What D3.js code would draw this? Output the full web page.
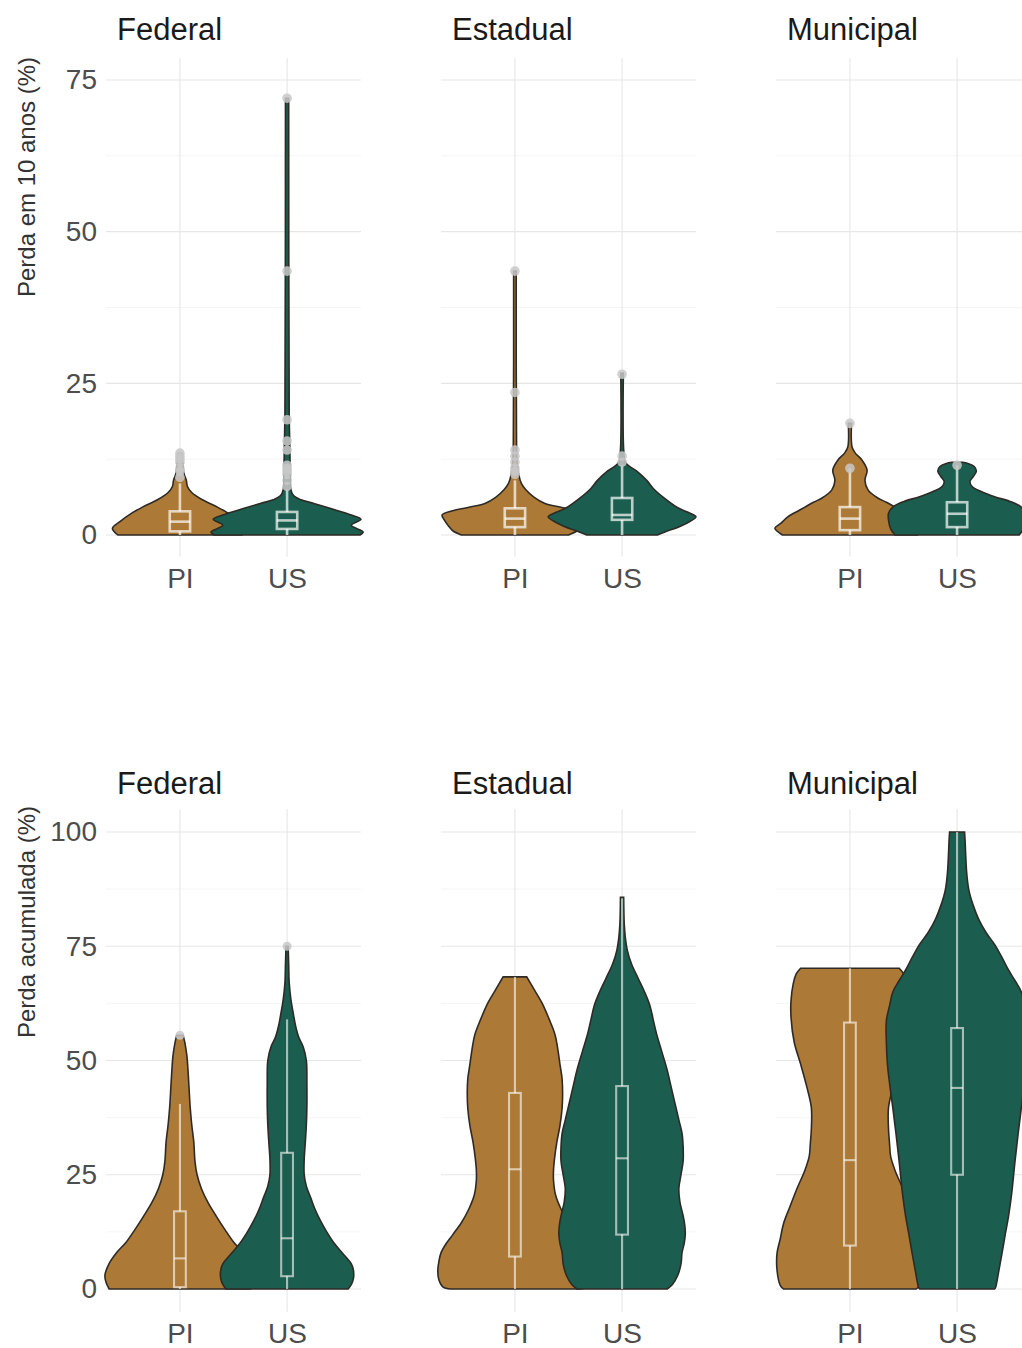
<!DOCTYPE html>
<html>
<head>
<meta charset="utf-8">
<script src="https://cdn.jsdelivr.net/npm/d3@7"></script>
<style>
  body { margin: 0; background: #fff; }
  text { font-family: "Liberation Sans", Arial, sans-serif; }
</style>
</head>
<body>
<svg id="chart" width="1022" height="1348"></svg>
<script>
const facets = ["Federal", "Estadual", "Municipal"]
const groups = ["PI", "US"]
const colors = { PI: "#ac7a36", US: "#1b5e4f" }

const tenTicks = [0, 25, 50, 75]
const accTicks = [0, 25, 50, 75, 100]

// violin outlines: [value, half width in category units]
const tenFederalPI = [[0,0.58],[1.1,0.63],[2.2,0.56],[3.6,0.45],[4.6,0.35],[5.8,0.21],[7,0.11],[8,0.07],[9,0.06],[10,0.04],[11,0.03],[13.5,0.02]]
const tenFederalUS = [[0,0.68],[0.5,0.71],[1.6,0.6],[2.6,0.69],[3.3,0.6],[4.4,0.4],[5.2,0.25],[5.8,0.13],[6.5,0.06],[7.5,0.035],[10,0.03],[15,0.025],[20,0.02],[72,0.015]]
const tenEstadualPI = [[0,0.5],[0.7,0.58],[1.5,0.62],[2.5,0.66],[3.3,0.68],[4,0.58],[4.5,0.45],[5.2,0.28],[6.2,0.18],[7.5,0.1],[8.5,0.06],[10,0.035],[12,0.02],[15,0.015],[43.5,0.012]]
const tenEstadualUS = [[0,0.33],[0.5,0.4],[1.5,0.55],[2.3,0.64],[3,0.69],[3.7,0.62],[4.5,0.52],[6,0.4],[7.5,0.3],[9,0.23],[10.5,0.14],[11.3,0.07],[12,0.03],[14,0.015],[26.7,0.012]]
const tenMunicipalPI = [[0,0.63],[1.1,0.7],[2,0.64],[3,0.58],[4,0.48],[4.6,0.42],[5.4,0.34],[6.1,0.26],[7.4,0.17],[9,0.14],[10.7,0.16],[12.4,0.11],[13.5,0.05],[14.5,0.02],[18.4,0.015]]
const tenMunicipalUS = [[0,0.58],[1,0.62],[2.5,0.64],[3.6,0.64],[4.6,0.6],[5.5,0.5],[6.3,0.35],[7.2,0.22],[8,0.14],[8.8,0.12],[9.6,0.15],[10.5,0.18],[11.3,0.16],[11.8,0.1],[12,0.05]]

const accFederalPI = [[0,0.66],[1.5,0.69],[3,0.7],[5.6,0.66],[8,0.59],[10.3,0.5],[13,0.42],[15.9,0.34],[19,0.26],[22,0.2],[25,0.16],[28,0.14],[32,0.13],[36,0.11],[40,0.095],[44,0.085],[48,0.075],[51,0.065],[54,0.045],[55.5,0.03]]
const accFederalUS = [[0,0.57],[1,0.6],[2.4,0.62],[4,0.62],[5.5,0.6],[7.5,0.53],[10,0.44],[12.5,0.37],[15,0.31],[17.5,0.26],[20,0.22],[22.5,0.18],[25,0.16],[28.5,0.16],[32,0.17],[36,0.18],[40,0.185],[45,0.185],[50,0.18],[53,0.15],[55,0.11],[57.5,0.08],[60,0.06],[63.5,0.035],[67,0.02],[71,0.015],[75,0.01]]
const accEstadualPI = [[0,0.6],[0.4,0.67],[2,0.71],[4,0.72],[6,0.71],[7.9,0.69],[10,0.64],[11.9,0.58],[14.5,0.5],[17.5,0.43],[20.5,0.38],[23.8,0.36],[26,0.36],[28.6,0.37],[32,0.39],[35.7,0.42],[39.5,0.44],[42.9,0.445],[46,0.44],[49.2,0.42],[52.5,0.4],[55.6,0.375],[59,0.32],[62.7,0.25],[65.5,0.18],[68.3,0.11]]
const accEstadualUS = [[0,0.42],[1,0.47],[3,0.52],[5.5,0.55],[8,0.56],[10,0.58],[12,0.59],[14,0.585],[16,0.57],[19,0.54],[22,0.53],[25,0.55],[28,0.57],[31,0.57],[34,0.56],[37,0.53],[40,0.5],[44,0.46],[48,0.42],[52,0.37],[56,0.32],[59,0.29],[62,0.26],[65,0.21],[68,0.15],[71,0.09],[74,0.05],[77,0.03],[80,0.02],[85.7,0.015]]
const accMunicipalPI = [[0,0.62],[0.8,0.65],[4,0.68],[7.9,0.68],[11,0.65],[14.3,0.62],[18,0.56],[22.2,0.49],[26,0.42],[29,0.38],[31.7,0.37],[35,0.36],[39.7,0.36],[44,0.4],[49.2,0.46],[54,0.52],[59.5,0.55],[63,0.55],[66.7,0.53],[69,0.5],[70.2,0.46]]
const accMunicipalUS = [[0,0.35],[0.4,0.36],[4,0.39],[7.9,0.42],[12,0.45],[15.9,0.48],[21,0.51],[27.8,0.54],[34,0.57],[39.7,0.6],[45,0.63],[49.2,0.65],[54,0.66],[58.7,0.66],[62,0.63],[65,0.6],[67.5,0.54],[69.8,0.48],[72.5,0.42],[75.4,0.35],[78,0.27],[81,0.2],[84,0.15],[87.3,0.11],[91,0.09],[95.2,0.08],[98,0.075],[100,0.07]]

// boxplots: facet, group, whisker low, q1, median, q3, whisker high
const tenBoxes = [
  ["Federal", "PI", 0, 0.6, 2.2, 3.9, 8.5],
  ["Federal", "US", 0, 1, 2.4, 3.8, 7.5],
  ["Estadual", "PI", 0, 1.3, 2.7, 4.4, 9],
  ["Estadual", "US", 0, 2.5, 3.3, 6.1, 11.5],
  ["Municipal", "PI", 0, 0.8, 2.7, 4.6, 11],
  ["Municipal", "US", 0, 1.3, 3.5, 5.4, 11.5]
]
const accBoxes = [
  ["Federal", "PI", 0, 0.4, 6.7, 17, 40.5],
  ["Federal", "US", 0, 2.8, 11.1, 29.8, 59],
  ["Estadual", "PI", 0, 7.1, 26.2, 42.9, 68.3],
  ["Estadual", "US", 0, 11.9, 28.6, 44.4, 85.5],
  ["Municipal", "PI", 0, 9.5, 28.2, 58.3, 70.2],
  ["Municipal", "US", 0, 25, 44, 57.1, 100]
]

const tenOutliers = [
  ["Federal", "PI", [9.5, 10.5, 11, 12, 12.5, 13, 13.5]],
  ["Federal", "US", [8, 9, 10, 10.5, 11, 11.5, 14, 15.5, 19, 43.5, 72]],
  ["Estadual", "PI", [10, 10.5, 11, 12, 13, 14, 23.5, 43.5]],
  ["Estadual", "US", [12, 13, 26.5]],
  ["Municipal", "PI", [11, 18.4]],
  ["Municipal", "US", [11.5]]
]
const accOutliers = [
  ["Federal", "PI", [55.5]],
  ["Federal", "US", [75]]
]

const svg = d3.select("#chart")

function drawRow(opt) {
  const g = svg.append("g")
  const y = d3.scaleLinear().domain(opt.domain).range(opt.range)
  const top = y(opt.panel[1]), bottom = y(opt.panel[0])
  const minor = d3.range(opt.ticks.length - 1).map(i => (opt.ticks[i] + opt.ticks[i + 1]) / 2)

  facets.forEach((f, i) => {
    const left = 106 + i * 335
    const x = d3.scalePoint().domain(groups).range([left, left + 255]).padding(0.69)
    const step = x.step()
    const p = g.append("g")

    // grid
    p.selectAll(".minor").data(minor).enter().append("line")
      .attr("x1", left).attr("x2", left + 255)
      .attr("y1", d => y(d)).attr("y2", d => y(d))
      .attr("stroke", "#f2f2f2").attr("stroke-width", 0.8)
    p.selectAll(".major").data(opt.ticks).enter().append("line")
      .attr("x1", left).attr("x2", left + 255)
      .attr("y1", d => y(d)).attr("y2", d => y(d))
      .attr("stroke", "#e6e6e6").attr("stroke-width", 1.1)
    p.selectAll(".vgrid").data(groups).enter().append("line")
      .attr("x1", d => x(d)).attr("x2", d => x(d))
      .attr("y1", top).attr("y2", bottom)
      .attr("stroke", "#e6e6e6").attr("stroke-width", 1.1)

    // violins
    groups.forEach(gr => {
      const cx = x(gr)
      const area = d3.area()
        .curve(d3.curveCatmullRom.alpha(0.5))
        .y(d => y(d[0]))
        .x0(d => cx - d[1] * step)
        .x1(d => cx + d[1] * step)
      p.append("path")
        .attr("d", area(opt.violins[f][gr]))
        .attr("fill", colors[gr])
        .attr("stroke", "#2e2a26")
        .attr("stroke-width", 1.6)
    })

    // boxes
    opt.boxes.filter(b => b[0] === f).forEach(b => {
      const cx = x(b[1]), bw = opt.boxWidth * step
      const bx = p.append("g").attr("stroke", "#fff").attr("stroke-opacity", opt.boxOpacity)
        .attr("stroke-width", opt.boxStroke).attr("fill", "none")
      bx.append("line").attr("x1", cx).attr("x2", cx).attr("y1", y(b[5])).attr("y2", y(b[6]))
      bx.append("line").attr("x1", cx).attr("x2", cx).attr("y1", y(b[3])).attr("y2", y(b[2]))
      bx.append("rect").attr("x", cx - bw).attr("width", 2 * bw)
        .attr("y", y(b[5])).attr("height", y(b[3]) - y(b[5]))
      bx.append("line").attr("x1", cx - bw).attr("x2", cx + bw).attr("y1", y(b[4])).attr("y2", y(b[4]))
    })

    opt.outliers.filter(o => o[0] === f).forEach(o => {
      p.selectAll(null).data(o[2]).enter().append("circle")
        .attr("cx", x(o[1])).attr("cy", d => y(d)).attr("r", opt.pointR)
        .attr("fill", "#c8c8c8").attr("fill-opacity", 0.85)
    })

    // x axis labels
    const xa = p.append("g").attr("transform", `translate(0,${bottom})`)
      .call(d3.axisBottom(x).tickSize(0).tickPadding(11))
    xa.select(".domain").remove()
    xa.selectAll("text").attr("font-size", 28).attr("fill", "#4d4d4d")
      .attr("font-family", "Liberation Sans, Arial, sans-serif")

    // facet title
    p.append("text").attr("x", left + 11).attr("y", opt.titleY)
      .attr("font-size", 31).attr("fill", "#1a1a1a").text(f)

    if (i === 0) {
      const ya = p.append("g").attr("transform", `translate(${left},0)`)
        .call(d3.axisLeft(y).tickValues(opt.ticks).tickSize(0).tickPadding(9))
      ya.select(".domain").remove()
      ya.selectAll("text").attr("font-size", 28).attr("fill", "#4d4d4d")
        .attr("font-family", "Liberation Sans, Arial, sans-serif")
    }
  })

  g.append("text")
    .attr("transform", `translate(27,${opt.labelY}) rotate(-90)`)
    .attr("text-anchor", "middle").attr("dy", "0.35em")
    .attr("font-size", 24).attr("fill", "#333")
    .text(opt.label)
}

drawRow({
  domain: [0, 75], range: [535, 80], panel: [-3.6, 78.6],
  ticks: tenTicks,
  violins: {
    Federal: { PI: tenFederalPI, US: tenFederalUS },
    Estadual: { PI: tenEstadualPI, US: tenEstadualUS },
    Municipal: { PI: tenMunicipalPI, US: tenMunicipalUS }
  },
  boxes: tenBoxes, outliers: tenOutliers, boxWidth: 0.095, pointR: 4.8,
  boxStroke: 2.6, boxOpacity: 0.7,
  titleY: 40, label: "Perda em 10 anos (%)", labelY: 177
})

drawRow({
  domain: [0, 100], range: [1289, 832], panel: [-5, 105],
  ticks: accTicks,
  violins: {
    Federal: { PI: accFederalPI, US: accFederalUS },
    Estadual: { PI: accEstadualPI, US: accEstadualUS },
    Municipal: { PI: accMunicipalPI, US: accMunicipalUS }
  },
  boxes: accBoxes, outliers: accOutliers, boxWidth: 0.055, pointR: 4.5,
  boxStroke: 2.1, boxOpacity: 0.6,
  titleY: 794, label: "Perda acumulada (%)", labelY: 922
})
</script>
</body>
</html>
